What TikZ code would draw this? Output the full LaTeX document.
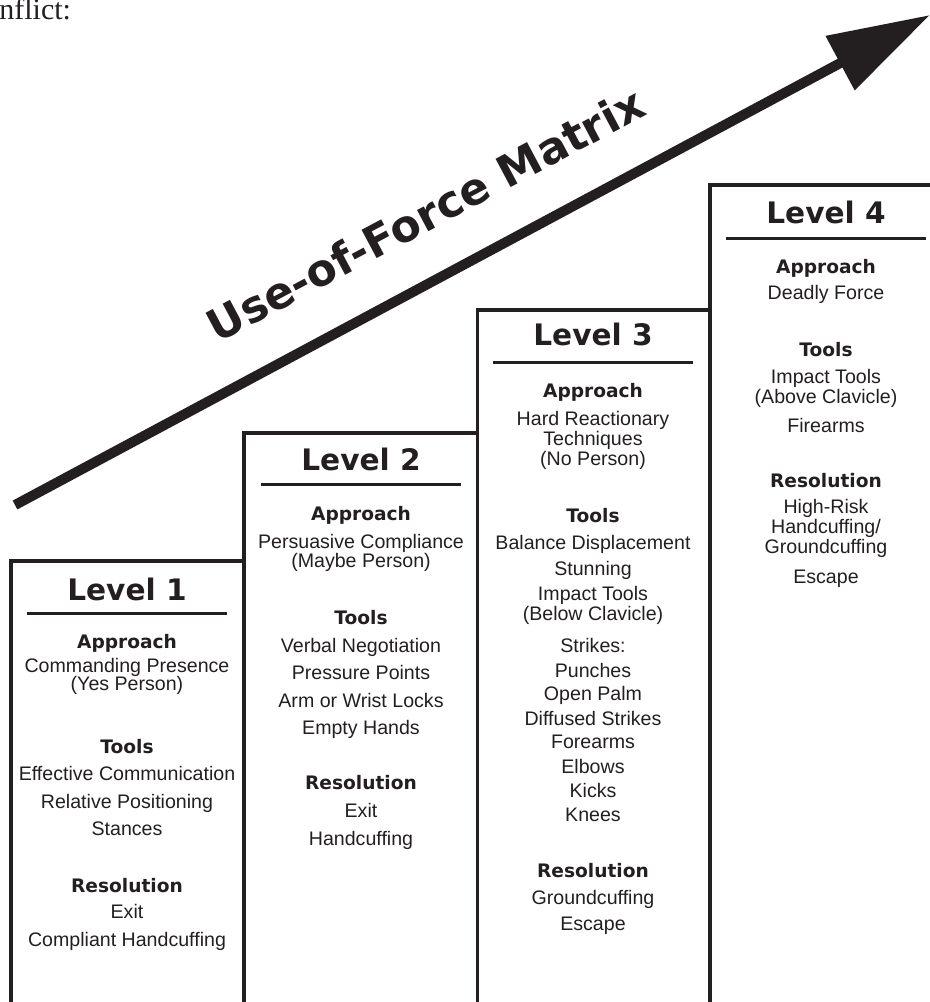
\documentclass[tikz,border=0pt]{standalone}
\usepackage{fontspec}
\setmainfont{Liberation Sans}
\newfontfamily\heavyfont{DejaVu Sans}
\newfontfamily\pagefont{Liberation Serif}
\usetikzlibrary{arrows.meta}
\definecolor{ink}{HTML}{231F20}
\tikzset{
  item/.style={anchor=base, inner sep=0pt, font=\fontsize{9.8}{11}\selectfont},
  head/.style={anchor=base, inner sep=0pt, font=\heavyfont\bfseries\fontsize{9.3}{11}\selectfont},
  leveltitle/.style={anchor=base, inner sep=0pt, font=\heavyfont\bfseries\fontsize{14.8}{18}\selectfont},
  wall/.style={line width=1.6pt},
  rule/.style={line width=1.5pt},
}
\begin{document}
\begin{tikzpicture}[x=0.5pt, y=-0.5pt, ink, text=ink]
\useasboundingbox (0,0) rectangle (930,1002);
\clip (0,0) rectangle (930,1002);
% text of the page, cut at the left edge
\node[anchor=base west, inner sep=0pt, font=\pagefont\fontsize{15}{17}\selectfont] (cut) at (-1,19) {nflict:};
% rising arrow and its label
\coordinate (tail) at (15,505);
\coordinate (tip) at (930,15);
\draw[line width=5pt, -{Triangle[length=51pt, width=29.5pt]}] (tail) -- (tip);
\node[anchor=base, rotate=28, inner sep=0pt, font=\heavyfont\bfseries\fontsize{22}{26}\selectfont] (title) at (433,229) {Use-of-Force Matrix};
% staircase of boxes
\draw[wall] (11,1010) -- (11,561) -- (244,561) -- (244,433) -- (477.5,433) -- (477.5,310) -- (710,310) -- (710,185) -- (940,185);
\foreach \x/\y in {244/433, 477.5/310, 710/185}
  \draw[wall] (\x,\y) -- (\x,1010);
% Level 1
\node[leveltitle] (one) at (127,600) {Level 1};
\draw[rule] (27,613) -- (227,613);
\foreach \y/\s/\t [count=\i] in {648/head/Approach, 672/item/Commanding Presence, 690/item/(Yes Person),
    753/head/Tools, 780/item/Effective Communication, 808/item/Relative Positioning, 835/item/Stances,
    892/head/Resolution, 918/item/Exit, 946/item/Compliant Handcuffing}
  \node[\s] (one-\i) at (127,\y) {\t};
% Level 2
\node[leveltitle] (two) at (361,470) {Level 2};
\draw[rule] (261,484) -- (461,484);
\foreach \y/\s/\t [count=\i] in {520/head/Approach, 548/item/Persuasive Compliance, 567/item/(Maybe Person),
    624/head/Tools, 652/item/Verbal Negotiation, 679/item/Pressure Points, 707/item/Arm or Wrist Locks, 734/item/Empty Hands,
    789/head/Resolution, 817/item/Exit, 845/item/Handcuffing}
  \node[\s] (two-\i) at (361,\y) {\t};
% Level 3
\node[leveltitle] (three) at (593,345) {Level 3};
\draw[rule] (493,362) -- (693,362);
\foreach \y/\s/\t [count=\i] in {397/head/Approach, 425/item/Hard Reactionary, 445/item/Techniques, 465/item/(No Person),
    522/head/Tools, 549/item/Balance Displacement, 575/item/Stunning, 600/item/Impact Tools, 620/item/(Below Clavicle),
    652/item/Strikes:, 677/item/Punches, 700/item/Open Palm, 725/item/Diffused Strikes, 748/item/Forearms,
    773/item/Elbows, 797/item/Kicks, 821/item/Knees,
    877/head/Resolution, 904/item/Groundcuffing, 930/item/Escape}
  \node[\s] (three-\i) at (593,\y) {\t};
% Level 4
\node[leveltitle] (four) at (826,223) {Level 4};
\draw[rule] (726,238) -- (926,238);
\foreach \y/\s/\t [count=\i] in {273/head/Approach, 299/item/Deadly Force,
    356/head/Tools, 383/item/Impact Tools, 403/item/(Above Clavicle), 432/item/Firearms,
    487/head/Resolution, 513/item/High-Risk, 533/item/Handcuffing\slash, 553/item/Groundcuffing, 583/item/Escape}
  \node[\s] (four-\i) at (826,\y) {\t};
\end{tikzpicture}
\end{document}
